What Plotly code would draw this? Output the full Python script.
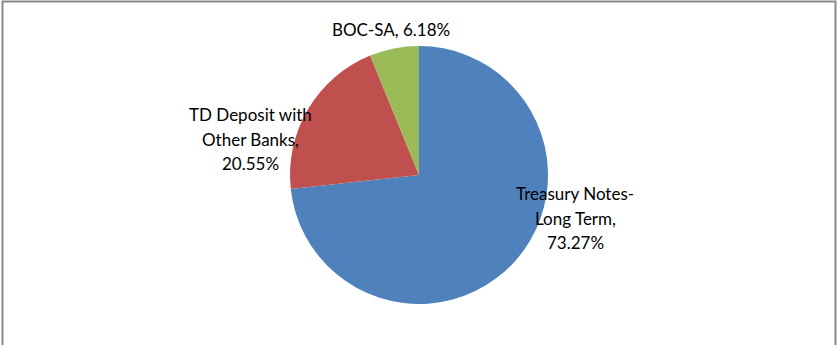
import plotly.graph_objects as go

labels = ["Treasury Notes-Long Term", "TD Deposit with Other Banks", "BOC-SA"]
values = [73.27, 20.55, 6.18]
colors = ["#4F81BD", "#C0504D", "#9BBB59"]
label_lines = [["Treasury Notes-", "Long Term,", "73.27%"],
               ["TD Deposit with", "Other Banks,", "20.55%"],
               ["BOC-SA, 6.18%"]]
label_pos = [(575, 218), (250, 139), (391, 30)]

W, H = 839, 345
LINE = 24.5
fig = go.Figure(go.Pie(
    labels=labels, values=values, sort=False, direction="clockwise", rotation=0,
    marker=dict(colors=colors, line=dict(width=0)),
    textinfo="none", hoverinfo="label+percent",
    domain=dict(x=[290 / W, 548 / W], y=[(H - 304) / H, (H - 46) / H]),
    showlegend=False,
))
for lines, (x, y) in zip(label_lines, label_pos):
    n = len(lines)
    for i, t in enumerate(lines):
        yy = y + (i - (n - 1) / 2) * LINE
        fig.add_annotation(x=x / W, y=1 - yy / H, xref="paper", yref="paper",
                           text=t, showarrow=False, align="center",
                           xanchor="center", yanchor="middle",
                           font=dict(family="Lato", size=17, color="#000000"))
fig.add_shape(type="rect", xref="paper", yref="paper",
              x0=2.5 / W, x1=835.5 / W, y0=-0.05, y1=1 - 1.5 / H,
              line=dict(color="#888888", width=2), fillcolor="rgba(0,0,0,0)")
fig.update_layout(width=W, height=H, margin=dict(l=0, r=0, t=0, b=0),
                  paper_bgcolor="white", plot_bgcolor="white")
fig.write_html("out.html")
